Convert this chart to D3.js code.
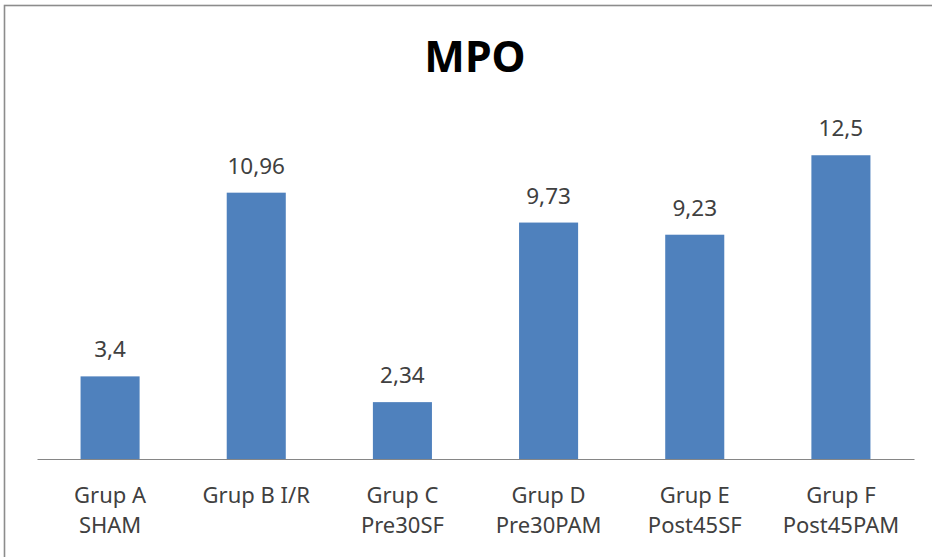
<!DOCTYPE html>
<html><head><meta charset="utf-8">
<script src="https://cdn.jsdelivr.net/npm/d3@7"></script>
<style>body{margin:0;background:#fff}svg{display:block}</style>
</head><body>
<script>
const title = "MPO";
const categories = [["Grup A","SHAM"],["Grup B I/R"],["Grup C","Pre30SF"],["Grup D","Pre30PAM"],["Grup E","Post45SF"],["Grup F","Post45PAM"]];
const values = [3.4, 10.96, 2.34, 9.73, 9.23, 12.5];
const valueLabels = ["3,4","10,96","2,34","9,73","9,23","12,5"];

const W = 932, H = 557;
const svg = d3.select("body").append("svg").attr("width", W).attr("height", H);
svg.append("rect").attr("width", W).attr("height", H).attr("fill", "#fff");
// chart frame
svg.append("rect").attr("x", 4.5).attr("y", 5.5).attr("width", W + 20).attr("height", H + 20)
  .attr("fill", "none").attr("stroke", "#8c8c8c").attr("stroke-width", 1.6);

const font = "'Noto Sans', 'Open Sans', sans-serif";
const x = d3.scaleBand().domain(d3.range(categories.length)).range([37, 914]).padding(0);
const y = d3.scaleLinear().domain([0, 14]).range([459, 459 - 14 * 24.3]);
const barW = x.bandwidth() * 0.404;

svg.append("text").attr("x", 475).attr("y", 72).attr("text-anchor", "middle")
  .attr("font-family", font).attr("font-weight", "bold").attr("font-size", 43)
  .attr("fill", "#000").text(title);

svg.selectAll("rect.bar").data(values).join("rect").attr("class", "bar")
  .attr("x", (d, i) => x(i) + x.bandwidth() / 2 - barW / 2)
  .attr("width", barW)
  .attr("y", d => y(d)).attr("height", d => y(0) - y(d))
  .attr("fill", "#4F81BD");

svg.selectAll("text.val").data(values).join("text").attr("class", "val")
  .attr("x", (d, i) => x(i) + x.bandwidth() / 2)
  .attr("y", d => y(d) - 19)
  .attr("text-anchor", "middle").attr("font-family", font).attr("font-size", 22.5)
  .attr("fill", "#404040").text((d, i) => valueLabels[i]);

const xAxis = d3.axisBottom(x).tickSize(0).tickFormat("");
const ax = svg.append("g").attr("transform", `translate(0,${y(0)})`).call(xAxis);
ax.select(".domain").attr("stroke", "#868686").attr("stroke-width", 1.2);

const lab = svg.selectAll("text.cat").data(categories).join("text").attr("class", "cat")
  .attr("text-anchor", "middle").attr("font-family", font).attr("font-size", 22).attr("fill", "#404040");
lab.each(function(lines, i) {
  const t = d3.select(this);
  lines.forEach((l, k) => {
    t.append("tspan").attr("x", x(i) + x.bandwidth() / 2).attr("y", 503 + k * 30).text(l);
  });
});
</script>
</body></html>
